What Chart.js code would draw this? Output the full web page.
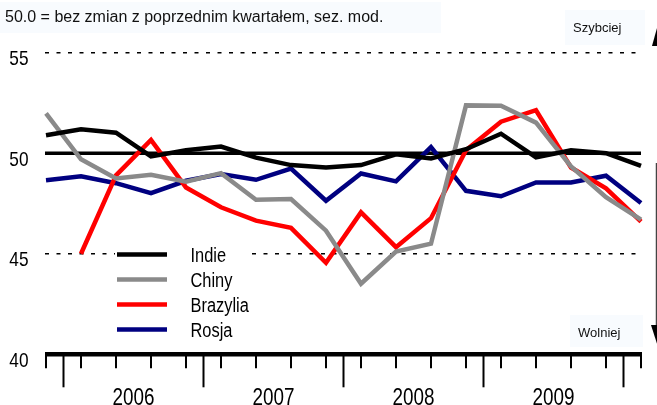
<!DOCTYPE html>
<html>
<head>
<meta charset="utf-8">
<script src="https://cdn.jsdelivr.net/npm/chart.js@4.4.1/dist/chart.umd.min.js"></script>
<style>
  body { margin: 0; background: #fff; }
  canvas { display: block; }
</style>
</head>
<body>
<canvas id="chart" width="657" height="405"></canvas>
<script>
// kwartały od IV 2005 do I 2010
const quarters = ['IV 05','I 06','II 06','III 06','IV 06','I 07','II 07','III 07','IV 07',
                  'I 08','II 08','III 08','IV 08','I 09','II 09','III 09','IV 09','I 10'];
const years = ['2006', '2007', '2008', '2009'];
const yTicks = [40, 45, 50, 55];

const indie    = [50.89, 51.19, 51.02, 49.84, 50.15, 50.33, 49.78, 49.41, 49.29, 49.41, 49.95, 49.74, 50.20, 50.97, 49.79, 50.15, 50.00, 49.37];
const chiny    = [51.98, 49.70, 48.75, 48.93, 48.58, 49.01, 47.69, 47.72, 46.15, 43.51, 45.11, 45.50, 52.38, 52.36, 51.52, 49.34, 47.81, 46.70];
const brazylia = [null, 45.00, 48.90, 50.66, 48.30, 47.31, 46.65, 46.29, 44.55, 47.06, 45.33, 46.77, 50.15, 51.57, 52.14, 49.29, 48.25, 46.60];
const rosja    = [48.66, 48.85, 48.51, 48.02, 48.63, 48.96, 48.68, 49.24, 47.64, 48.99, 48.60, 50.30, 48.13, 47.86, 48.55, 48.55, 48.88, 47.52];

const title = '50.0 = bez zmian z poprzednim kwartałem, sez. mod.';

// tekst "zwężony" (jak Arial Narrow)
function narrowText(ctx, text, x, y, size, align){
	ctx.save();
	ctx.font = size + 'px "Liberation Sans", Arial, sans-serif';
	ctx.textAlign = align;
	ctx.textBaseline = 'alphabetic';
	ctx.translate(x, y);
	ctx.scale(0.82, 1);
	ctx.fillText(text, 0, 0);
	ctx.restore();
}

const decor = {
	id: 'decor',
	beforeDatasetsDraw(chart){
		const ctx = chart.ctx;
		const y = chart.scales.y;
		const left = chart.chartArea.left, right = chart.chartArea.right;
		ctx.save();
		// tła napisów
		ctx.fillStyle = '#f8fbfe';
		ctx.fillRect(0, 2, 441, 31);
		ctx.fillRect(565, 10, 80, 35);
		ctx.fillRect(570, 315, 73, 32);
		// linie przerywane 55 i 45
		ctx.strokeStyle = '#000';
		ctx.lineWidth = 1.5;
		ctx.setLineDash([4, 7.5]);
		[55, 45].forEach(v => {
			const py = y.getPixelForValue(v);
			ctx.beginPath(); ctx.moveTo(left - 1, py); ctx.lineTo(right, py); ctx.stroke();
		});
		ctx.setLineDash([]);
		// tło legendy
		ctx.fillStyle = '#fff';
		ctx.fillRect(115, 238, 133, 100);
		// linia 50
		const p50 = y.getPixelForValue(50);
		ctx.lineWidth = 3.5;
		ctx.beginPath(); ctx.moveTo(left - 1, p50); ctx.lineTo(right, p50); ctx.stroke();
		ctx.restore();
	},
	afterDatasetsDraw(chart){
		const ctx = chart.ctx;
		const x = chart.scales.x, y = chart.scales.y;
		const left = chart.chartArea.left, right = chart.chartArea.right;
		const bottom = y.getPixelForValue(40);
		ctx.save();
		ctx.fillStyle = '#000';
		ctx.strokeStyle = '#000';
		// oś X
		ctx.lineWidth = 4.5;
		ctx.beginPath(); ctx.moveTo(left - 1, bottom); ctx.lineTo(right + 1, bottom); ctx.stroke();
		ctx.lineWidth = 2;
		for(let i=0; i<quarters.length; i++){
			const px = x.getPixelForValue(i);
			ctx.beginPath(); ctx.moveTo(px, bottom); ctx.lineTo(px, bottom + 14); ctx.stroke();
		}
		// długie kreski na granicach lat
		for(let k=0; k<=years.length; k++){
			const i = k * 4;
			const px = (x.getPixelForValue(i) + x.getPixelForValue(i + 1)) / 2;
			ctx.beginPath(); ctx.moveTo(px, bottom); ctx.lineTo(px, bottom + 33); ctx.stroke();
		}
		// podpisy lat
		years.forEach((yr, k) => {
			const i = k * 4 + 2;
			const px = (x.getPixelForValue(i) + x.getPixelForValue(i + 1)) / 2;
			narrowText(ctx, yr, px, 405, 23, 'center');
		});
		// podpisy osi Y
		yTicks.forEach(v => {
			narrowText(ctx, String(v), 28.5, y.getPixelForValue(v) + 12.5, 21, 'right');
		});
		// legenda
		chart.data.datasets.forEach((ds, k) => {
			const ry = 254.5 + k * 25;
			ctx.strokeStyle = ds.borderColor;
			ctx.lineWidth = 4.5;
			ctx.beginPath(); ctx.moveTo(117, ry); ctx.lineTo(167, ry); ctx.stroke();
			ctx.fillStyle = '#000';
			narrowText(ctx, ds.label, 190.5, ry + 7.5, 20, 'left');
		});
		// napisy
		ctx.fillStyle = '#111';
		ctx.font = '16px "Liberation Sans", Arial, sans-serif';
		ctx.textAlign = 'left';
		ctx.fillText(title, 5, 22);
		ctx.font = '13px "Liberation Sans", Arial, sans-serif';
		ctx.fillText('Szybciej', 573, 32);
		ctx.fillText('Wolniej', 578, 337);
		// strzałki po prawej
		ctx.fillStyle = '#000';
		ctx.beginPath(); ctx.moveTo(660, 17); ctx.lineTo(668, 46); ctx.lineTo(652, 46); ctx.closePath(); ctx.fill();
		ctx.strokeStyle = '#444';
		ctx.lineWidth = 1.5;
		ctx.beginPath(); ctx.moveTo(656.5, 163); ctx.lineTo(656.5, 330); ctx.stroke();
		ctx.beginPath(); ctx.moveTo(651, 325); ctx.lineTo(667, 325); ctx.lineTo(659, 350); ctx.closePath(); ctx.fill();
		ctx.restore();
	}
};

const ctx = document.querySelector('#chart');
const chart = new Chart(ctx, {
	type: 'line',
	data: {
		labels: quarters,
		datasets: [
			{ label: 'Indie',    data: indie,    borderColor: '#000000' },
			{ label: 'Chiny',    data: chiny,    borderColor: '#8a8a8a' },
			{ label: 'Brazylia', data: brazylia, borderColor: '#ff0000' },
			{ label: 'Rosja',    data: rosja,    borderColor: '#000080' }
		]
	},
	options: {
		responsive: false,
		animation: false,
		devicePixelRatio: 1,
		layout: { padding: { left: 46, right: 16, top: 52.7, bottom: 50.7 } },
		elements: {
			line: { borderWidth: 4.5, tension: 0, borderJoinStyle: 'miter', fill: false },
			point: { radius: 0 }
		},
		scales: {
			x: { type: 'category', display: false, offset: false },
			y: { type: 'linear', display: false, min: 40, max: 55 }
		},
		plugins: {
			legend: { display: false },
			tooltip: { enabled: false }
		}
	},
	plugins: [decor]
});
</script>
</body>
</html>
